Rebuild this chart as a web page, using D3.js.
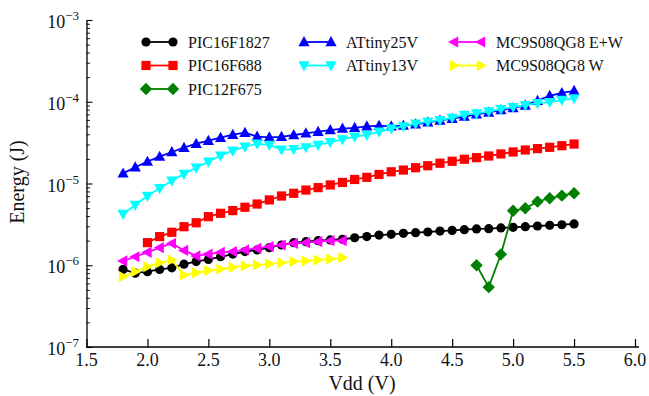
<!DOCTYPE html>
<html><head><meta charset="utf-8">
<script src="https://cdn.jsdelivr.net/npm/d3@7"></script>
<style>
html,body{margin:0;padding:0;background:#fff;}
svg{display:block;font-family:"Liberation Serif","DejaVu Serif",serif;}
</style></head>
<body><svg id="c" width="649" height="396"></svg>
<script>
// ---- data ----
const vFull = [1.8,1.9,2.0,2.1,2.2,2.3,2.4,2.5,2.6,2.7,2.8,2.9,3.0,3.1,3.2,3.3,3.4,3.5,3.6,3.7,3.8,3.9,4.0,4.1,4.2,4.3,4.4,4.5,4.6,4.7,4.8,4.9,5.0,5.1,5.2,5.3,5.4,5.5];
const vFrom20 = [2.0,2.1,2.2,2.3,2.4,2.5,2.6,2.7,2.8,2.9,3.0,3.1,3.2,3.3,3.4,3.5,3.6,3.7,3.8,3.9,4.0,4.1,4.2,4.3,4.4,4.5,4.6,4.7,4.8,4.9,5.0,5.1,5.2,5.3,5.4,5.5];
const vFrom47 = [4.7,4.8,4.9,5.0,5.1,5.2,5.3,5.4,5.5];
const vTo36 = [1.8,1.9,2.0,2.1,2.2,2.3,2.4,2.5,2.6,2.7,2.8,2.9,3.0,3.1,3.2,3.3,3.4,3.5,3.6];

const pic16f1827 = [8.9e-7,8.0e-7,8.35e-7,8.9e-7,9.3e-7,1.03e-6,1.11e-6,1.18e-6,1.27e-6,1.37e-6,1.47e-6,1.54e-6,1.64e-6,1.77e-6,1.89e-6,1.94e-6,2.0e-6,2.04e-6,2.08e-6,2.17e-6,2.24e-6,2.34e-6,2.39e-6,2.46e-6,2.5e-6,2.55e-6,2.62e-6,2.67e-6,2.72e-6,2.78e-6,2.8e-6,2.86e-6,2.91e-6,2.96e-6,3.02e-6,3.08e-6,3.13e-6,3.2e-6];
const pic16f688 = [1.89e-6,2.24e-6,2.53e-6,2.96e-6,3.31e-6,3.93e-6,4.32e-6,4.66e-6,5.12e-6,5.61e-6,6.3e-6,7.03e-6,7.59e-6,8.32e-6,8.9e-6,9.6e-6,1.03e-5,1.12e-5,1.19e-5,1.29e-5,1.39e-5,1.46e-5,1.56e-5,1.65e-5,1.77e-5,1.87e-5,1.98e-5,2.07e-5,2.17e-5,2.3e-5,2.43e-5,2.57e-5,2.67e-5,2.77e-5,2.9e-5,3.04e-5];
const pic12f675 = [1.0e-6,5.4e-7,1.36e-6,4.65e-6,4.97e-6,6.0e-6,6.6e-6,7.1e-6,7.6e-6];
const attiny25v = [1.33e-5,1.58e-5,1.85e-5,2.13e-5,2.43e-5,2.74e-5,3.07e-5,3.34e-5,3.63e-5,3.95e-5,4.18e-5,3.75e-5,3.67e-5,3.72e-5,3.92e-5,4.11e-5,4.3e-5,4.5e-5,4.7e-5,4.8e-5,5.0e-5,5.1e-5,5.0e-5,5.1e-5,5.3e-5,5.6e-5,5.9e-5,6.2e-5,6.6e-5,7.0e-5,7.4e-5,7.9e-5,8.4e-5,9.0e-5,1.03e-4,1.18e-4,1.28e-4,1.36e-4];
const attiny13v = [4.24e-6,5.46e-6,7.03e-6,8.73e-6,1.08e-5,1.31e-5,1.56e-5,1.85e-5,2.19e-5,2.52e-5,2.82e-5,3.06e-5,2.96e-5,2.6e-5,2.62e-5,2.77e-5,2.96e-5,3.19e-5,3.47e-5,3.74e-5,3.92e-5,4.3e-5,4.7e-5,5.0e-5,5.4e-5,5.7e-5,5.96e-5,6.35e-5,6.9e-5,7.2e-5,7.6e-5,8.1e-5,8.6e-5,9.1e-5,9.6e-5,9.9e-5,1.05e-4,1.1e-4];
const mcEW = [1.13e-6,1.27e-6,1.44e-6,1.64e-6,1.85e-6,1.52e-6,1.30e-6,1.37e-6,1.44e-6,1.47e-6,1.54e-6,1.61e-6,1.69e-6,1.77e-6,1.85e-6,1.89e-6,1.94e-6,2.0e-6,2.0e-6];
const mcW = [7.24e-7,8.35e-7,9.6e-7,1.07e-6,1.16e-6,7.6e-7,8.1e-7,8.6e-7,9.0e-7,9.44e-7,9.8e-7,1.01e-6,1.04e-6,1.07e-6,1.11e-6,1.13e-6,1.16e-6,1.19e-6,1.24e-6];

const seriesNames = ["PIC16F1827","PIC16F688","PIC12F675","ATtiny25V","ATtiny13V","MC9S08QG8 E+W","MC9S08QG8 W"];
const seriesColors = ["#000000","#ff0000","#008000","#0000ff","#00ffff","#ff00ff","#ffff00"];
const seriesMarkers = ["circle","square","diamond","up","down","left","right"];
const seriesX = [vFull, vFrom20, vFrom47, vFull, vFull, vTo36, vTo36];
const seriesY = [pic16f1827, pic16f688, pic12f675, attiny25v, attiny13v, mcEW, mcW];

const xTicks = [1.5,2.0,2.5,3.0,3.5,4.0,4.5,5.0,5.5,6.0];
const yMajor = [1e-7,1e-6,1e-5,1e-4,1e-3];
const yExp = ["−7","−6","−5","−4","−3"];
const xLabel = "Vdd (V)";
const yLabel = "Energy (J)";

// ---- chart ----
const svg = d3.select("#c");
const x = d3.scaleLinear().domain([1.5,6.0]).range([86.5,635]);
const y = d3.scaleLog().domain([1e-7,1e-3]).range([347,20]);

const yMinor = [];
for (let d = -7; d < -3; d++) for (let m = 2; m <= 9; m++) yMinor.push(m * Math.pow(10, d));

// x axis
const gx = svg.append("g").attr("transform","translate(0,347)")
  .call(d3.axisBottom(x).tickValues(xTicks).tickSize(-8).tickSizeOuter(0).tickFormat(""));
gx.select(".domain").attr("d","M86.5,0H639").attr("stroke","#000").attr("stroke-width",1.3);
gx.selectAll(".tick line").attr("stroke","#000").attr("stroke-width",1.2);
svg.append("g").selectAll("text").data(xTicks).join("text")
  .attr("x", d => x(d)).attr("y", 366).attr("text-anchor","middle")
  .attr("font-size",18).attr("fill","#111").text(d => d.toFixed(1));

// y axis
const gy = svg.append("g").attr("transform","translate(86.5,0)")
  .call(d3.axisLeft(y).tickValues(yMajor).tickSize(-6).tickSizeOuter(0).tickFormat(""));
gy.select(".domain").attr("stroke","#000").attr("stroke-width",1.3);
gy.selectAll(".tick line").attr("stroke","#000").attr("stroke-width",1.1);
const gym = svg.append("g").attr("transform","translate(86.5,0)")
  .call(d3.axisLeft(y).tickValues(yMinor).tickSize(-3.5).tickSizeOuter(0).tickFormat(""));
gym.select(".domain").remove();
gym.selectAll(".tick line").attr("stroke","#000").attr("stroke-width",0.9);

const yl = svg.append("g").selectAll("text").data(yMajor).join("text")
  .attr("x", 79).attr("y", d => y(d) + 8).attr("text-anchor","end")
  .attr("font-size",18).attr("fill","#111");
yl.append("tspan").text("10");
yl.append("tspan").attr("font-size",13).attr("dy",-8).text((d,i) => yExp[i]);

svg.append("text").attr("x", 362).attr("y", 390).attr("text-anchor","middle")
  .attr("font-size",20).attr("fill","#111").text(xLabel);
svg.append("text").attr("transform","translate(24,182) rotate(-90)").attr("text-anchor","middle")
  .attr("font-size",20).attr("fill","#111").text(yLabel);

// markers
function marker(sel, type, color) {
  if (type === "circle") {
    sel.append("circle").attr("r",4.6).attr("fill",color);
  } else if (type === "square") {
    sel.append("rect").attr("x",-4.6).attr("y",-4.6).attr("width",9.2).attr("height",9.2).attr("fill",color);
  } else if (type === "diamond") {
    sel.append("path").attr("d","M0,-6.2L6.2,0L0,6.2L-6.2,0Z").attr("fill",color);
  } else {
    const rot = {up:0, down:180, left:-90, right:90}[type];
    sel.append("path").attr("d","M0,-6L5.6,4.2L-5.6,4.2Z").attr("fill",color)
      .attr("transform","rotate(" + rot + ")");
  }
}

const line = d3.line().x(d => x(d[0])).y(d => y(d[1]));
seriesNames.forEach((name, i) => {
  const pts = seriesX[i].map((v, k) => [v, seriesY[i][k]]);
  const g = svg.append("g");
  g.append("path").datum(pts).attr("d", line).attr("fill","none")
    .attr("stroke", seriesColors[i]).attr("stroke-width", 1.8);
  g.selectAll("g.m").data(pts).join("g").attr("class","m")
    .attr("transform", d => "translate(" + x(d[0]) + "," + y(d[1]) + ")")
    .each(function(){ marker(d3.select(this), seriesMarkers[i], seriesColors[i]); });
});

// legend
const legCols = [146, 304, 454];
const legRows = [42, 65.5, 89];
const legPos = [[0,0],[0,1],[0,2],[1,0],[1,1],[2,0],[2,1]];
seriesNames.forEach((name, i) => {
  const lx = legCols[legPos[i][0]], ly = legRows[legPos[i][1]];
  const g = svg.append("g").attr("transform","translate(" + lx + "," + ly + ")");
  g.append("line").attr("x1",0).attr("x2",27).attr("y1",0).attr("y2",0)
    .attr("stroke", seriesColors[i]).attr("stroke-width",1.8);
  marker(g.append("g"), seriesMarkers[i], seriesColors[i]);
  marker(g.append("g").attr("transform","translate(27,0)"), seriesMarkers[i], seriesColors[i]);
  g.append("text").attr("x", 42).attr("y", 5.5).attr("font-size",16).attr("fill","#111").text(name);
});
</script></body></html>
